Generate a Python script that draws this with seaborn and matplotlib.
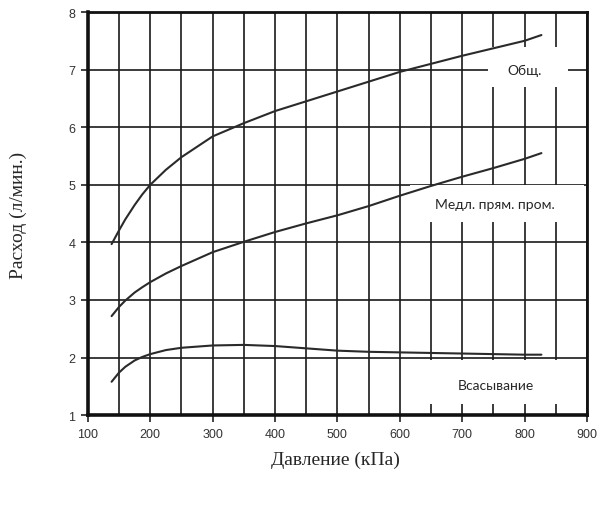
import numpy as np
import pandas as pd
import matplotlib
matplotlib.use('Agg')
import matplotlib.pyplot as plt
import seaborn as sns

sns.set_style('white')

# values
pressure = [138, 150, 160, 175, 187, 200, 225, 250, 300, 350, 400, 450, 500, 550, 600, 650, 700, 750, 800, 827]
total = [3.97, 4.21, 4.4, 4.65, 4.83, 5.0, 5.26, 5.48, 5.84, 6.07, 6.28, 6.45, 6.62, 6.79, 6.96, 7.1, 7.24, 7.37, 7.5, 7.6]
slow_feed = [2.72, 2.88, 2.99, 3.13, 3.22, 3.31, 3.46, 3.59, 3.83, 4.01, 4.18, 4.33, 4.47, 4.63, 4.81, 4.98, 5.14, 5.29, 5.45, 5.55]
suction = [1.58, 1.74, 1.84, 1.95, 2.01, 2.06, 2.13, 2.17, 2.21, 2.22, 2.2, 2.16, 2.12, 2.1, 2.09, 2.08, 2.07, 2.06, 2.05, 2.05]
series_names = ['Общ.', 'Медл. прям. пром.', 'Всасывание']

df = pd.DataFrame({'p': pressure * 3,
                   'q': total + slow_feed + suction,
                   'serie': np.repeat(series_names, len(pressure))})

fig = plt.figure(figsize=(6.02, 5.10), dpi=100)
ax = fig.add_axes([0.146, 0.184, 0.829, 0.7905])

sns.lineplot(data=df, x='p', y='q', units='serie', estimator=None,
             color='#2a2a2a', lw=1.5, ax=ax, legend=False, zorder=3)

ax.set_xlim(100, 900)
ax.set_ylim(1, 8)
ax.set_xticks(range(100, 901, 100))
ax.set_xticks(range(150, 900, 100), minor=True)
ax.set_yticks(range(1, 9))
ax.grid(True, which='both', color='#1a1a1a', lw=1.2)
ax.set_axisbelow(True)
for side in ['left', 'bottom']:
    ax.spines[side].set_linewidth(2.6)
for side in ['top', 'right']:
    ax.spines[side].set_linewidth(2.0)
for s in ax.spines.values():
    s.set_color('#111111')
ax.tick_params(which='major', direction='out', length=5, width=1.2, color='#222222',
               labelsize=9, labelcolor='#333333', pad=4, left=True, bottom=True)
ax.tick_params(which='minor', length=0)
for lab in ax.get_xticklabels() + ax.get_yticklabels():
    lab.set_fontfamily('Liberation Sans')

ax.set_xlabel('')
ax.set_ylabel('')
fig.text(335 / 602, 1 - 460 / 510, 'Давление (кПа)', fontsize=14,
         fontfamily='Liberation Serif', ha='center', va='center')
fig.text(18 / 602, 1 - 215 / 510, 'Расход (л/мин.)', fontsize=14, rotation=90,
         fontfamily='Liberation Serif', ha='center', va='center')

# white label boxes (in axes data coordinates)
def box(x0, x1, y0, y1, text, tx, ty):
    ax.add_patch(plt.Rectangle((x0, y0), x1 - x0, y1 - y0, color='white', zorder=2.5, lw=0))
    ax.text(tx, ty, text, fontsize=10, fontfamily='Lato', ha='center', va='center', zorder=4)

box(741, 870, 6.7, 7.4, series_names[0], 800, 6.99)
box(617, 895, 4.35, 4.99, series_names[1], 752, 4.67)
box(620, 895, 1.19, 1.96, series_names[2], 754, 1.52)

fig.savefig('out.png', dpi=100)
